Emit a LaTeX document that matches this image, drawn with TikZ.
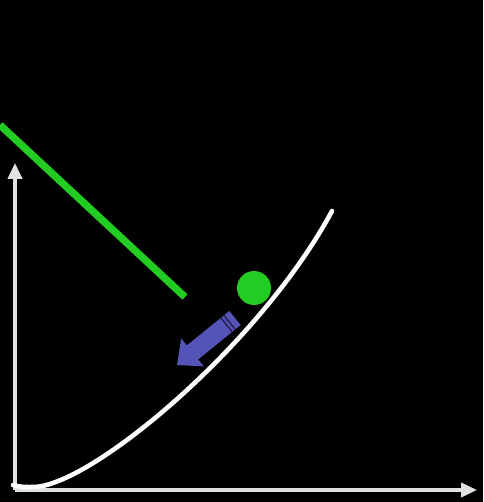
\documentclass[tikz,border=0pt]{standalone}
\usepackage{tikz}
\usetikzlibrary{arrows.meta}

\definecolor{ballgreen}{RGB}{34,204,34}
\definecolor{pushblue}{RGB}{84,84,184}
\definecolor{axisgray}{RGB}{225,225,225}

\begin{document}
\begin{tikzpicture}[x=0.02cm, y=-0.02cm,
	axisline/.style={draw=axisgray, line width=1.8pt, -{Triangle[length=9pt,width=8pt]}},
	curveline/.style={draw=white, line width=2.6pt, line cap=round},
	rodline/.style={draw=ballgreen, line width=4.2pt},
	pusharrow/.style={fill=pushblue, draw=none}]
	\fill[black] (0,0) rectangle (483,502);
	\useasboundingbox (0,0) rectangle (483,502);
	\coordinate (O) at (15,490);
	\coordinate (ytop) at (15,163);
	\coordinate (xend) at (477,490);
	\draw[axisline] (O) -- (ytop);
	\draw[axisline] (O) -- (xend);
	\coordinate (cstart) at (13,485);
	\coordinate (cmin) at (33,487);
	\coordinate (cend) at (332,211);
	\draw[curveline] (cstart) .. controls (22,487.5) and (28,487) .. (cmin)
		.. controls (90,487) and (260,345) .. (cend);
	\coordinate (rodA) at (0,125);
	\coordinate (rodB) at (185,297);
	\draw[rodline] (rodA) -- (rodB);
	\fill[ballgreen] (254,288) circle (17);
	\fill[pusharrow] (240.7,325.0) -- (198.2,359.4) -- (203.8,366.4) -- (177,365) -- (181.2,338.4) -- (186.8,345.4) -- (229.3,311.0) -- cycle;
	\draw[black!60!pushblue, line width=0.8pt] (235.3,329.4) -- (223.9,315.4);
	\draw[black!60!pushblue, line width=0.8pt] (232.2,331.9) -- (220.8,317.9);
\end{tikzpicture}
\end{document}
